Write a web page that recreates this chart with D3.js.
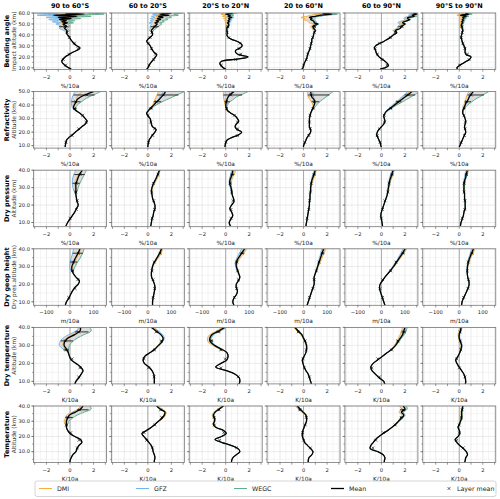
<!DOCTYPE html>
<html>
<head>
<meta charset="utf-8">
<script src="https://cdn.jsdelivr.net/npm/d3@7"></script>
<style>
body { margin: 0; background: #fff; }
svg { display: block; font-family: "DejaVu Sans", sans-serif; }
</style>
</head>
<body>
<div id="chart"></div>
<script>
// column / row labels
const colTitles = ["90 to 60°S", "60 to 20°S", "20°S to 20°N", "20 to 60°N", "60 to 90°N", "90°S to 90°N"];
const rowTitles = ["Bending angle", "Refractivity", "Dry pressure", "Dry geop height", "Dry temperature", "Temperature"];
const rowSubtitles = ["Impact altitude (km)", "Altitude (km)", "Altitude (km)", "Dry pres.altitude (km)", "Altitude (km)", "Altitude (km)"];
const rowUnits = ["%/10a", "%/10a", "%/10a", "m/10a", "K/10a", "K/10a"];
const centers = ["DMI", "GFZ", "WEGC"];

// altitude grids (km)
const zBend = [9,10,12,14,16,18,20,22,24,26,28,30,32,34,36,38,40,42,44,46,48,50,51,52,53,54,55,56,57,58,59,60];
const zBendTop = [44,46,48,50,51,52,53,54,55,56,57,58,59,60];
const zRefr = [9,10,12,14,16,18,20,22,24,26,28,30,32,34,36,38,40,42,44,46,48,50];
const zRefrTop = [36,38,40,42,44,46,48,50];
const zStrat = [8,10,12,14,16,18,20,22,24,26,28,30,32,34,36,38,40];
const zStratTop = [28,30,32,34,36,38,40];
const zTemp = [3,4,6,8,10,12,14,16,18,20,22,24,26,28,30,32,34,36,38,40];

// ---- bending angle trends (%/10a)
const bendMean = [
  [0.1,-0.1,-0.4,-0.6,-0.7,-0.6,-0.4,-0.1,0.2,0.6,0.85,0.6,0.35,0.2,0.05,-0.05,-0.2,-0.3,-0.25,-0.45,-0.3,-0.6,-0.2,-0.7,-0.3,-0.9,0.1,-1.0,0.6,-1.4,1.2,-0.4],
  [-0.1,0.0,0.1,0.2,0.35,0.5,0.65,0.75,0.55,0.4,0.3,0.2,0.05,-0.1,0.0,0.2,0.4,0.35,0.3,0.45,0.6,0.8,0.6,0.9,0.7,1.1,0.8,1.3,0.9,1.8,1.0,2.0],
  [0.0,-0.2,-0.4,-0.5,-0.35,1.0,1.9,1.1,0.85,0.85,1.2,1.4,1.3,1.0,0.5,0.2,0.1,0.15,0.1,0.1,0.2,0.25,0.15,0.3,0.2,0.35,0.25,0.5,0.2,0.4,0.0,0.6],
  [-0.15,-0.05,0.0,0.05,0.15,0.25,0.3,0.35,0.4,0.5,0.55,0.6,0.65,0.7,0.7,0.8,0.85,0.9,1.0,0.85,0.8,1.2,0.9,0.9,0.8,0.6,0.7,0.5,1.0,1.5,2.4,1.6],
  [-0.1,0.3,0.6,0.5,0.3,0.05,-0.2,-0.35,-0.45,-0.5,-0.6,-0.5,-0.2,0.2,0.5,0.8,1.0,1.3,1.2,1.6,1.7,2.0,1.8,1.9,2.2,2.4,2.2,2.3,2.8,2.6,3.0,2.7],
  [-0.15,-0.2,0.0,0.3,0.6,0.9,1.0,0.6,0.5,0.5,0.5,0.4,0.3,0.25,0.2,0.15,0.2,0.25,0.3,0.25,0.2,0.2,0.3,0.2,0.35,0.25,0.4,0.3,0.6,0.1,0.8,0.5]
];
const bendDMI = [
  [-0.3,-0.5,-0.4,-0.7,-0.3,-0.8,-0.4,-1.0,0.0,-1.2,0.5,-1.6,1.0,-0.6],
  [0.3,0.4,0.5,0.7,0.5,0.8,0.6,0.9,0.6,1.0,0.7,1.4,0.8,1.5],
  [0.05,0.0,0.1,0.1,-0.05,0.1,-0.1,0.1,-0.2,0.2,-0.3,0.0,-0.4,0.2],
  [0.9,0.7,0.6,0.9,0.5,0.4,0.3,0.0,0.1,-0.2,0.3,0.6,1.5,0.8],
  [1.1,1.4,1.5,1.8,1.6,1.7,2.0,2.2,2.0,2.1,2.6,2.4,2.8,2.5],
  [0.25,0.2,0.1,0.1,0.15,0.0,0.2,0.05,0.2,0.0,0.3,-0.2,0.4,0.2]
];
const bendGFZ = [
  [-0.5,-0.9,-0.7,-1.2,-0.8,-1.5,-1.0,-1.8,-0.8,-2.0,-0.6,-2.8,-1.0,-3.0],
  [0.15,0.2,0.2,0.3,0.1,0.4,0.2,0.5,0.2,0.6,0.3,0.9,0.4,1.0],
  [0.15,0.2,0.3,0.35,0.3,0.45,0.35,0.55,0.45,0.7,0.5,0.6,0.3,0.8],
  [1.05,0.95,0.9,1.3,1.1,1.1,1.0,0.9,1.0,1.0,1.5,1.8,2.7,2.0],
  [1.0,1.3,1.4,1.6,1.4,1.5,1.8,2.0,1.9,2.0,2.5,2.3,2.7,2.4],
  [0.3,0.3,0.25,0.3,0.4,0.3,0.5,0.4,0.6,0.5,0.8,0.3,1.0,0.7]
];
const bendWEGC = [
  [-0.05,-0.2,0.0,-0.2,0.3,-0.2,0.4,-0.3,0.9,0.0,1.8,0.3,2.9,1.5],
  [0.45,0.7,0.9,1.2,1.0,1.4,1.2,1.7,1.5,2.0,1.8,2.6,2.2,3.0],
  [0.1,0.1,0.2,0.3,0.2,0.35,0.25,0.4,0.3,0.6,0.4,0.7,0.4,1.0],
  [1.0,0.9,0.85,1.3,1.0,1.0,0.9,0.8,0.8,0.6,1.1,1.9,2.9,2.2],
  [1.25,1.65,1.8,2.1,1.9,2.0,2.3,2.5,2.4,2.5,3.0,2.8,3.1,2.9],
  [0.35,0.3,0.3,0.3,0.4,0.35,0.45,0.4,0.55,0.5,0.8,0.4,1.1,0.8]
];

// ---- refractivity trends (%/10a)
const refrMean = [
  [-0.4,-0.4,-0.35,-0.3,-0.1,0.2,0.45,0.75,1.0,1.3,1.45,1.3,1.1,0.85,0.5,0.3,0.35,0.5,0.6,0.9,1.4,2.0],
  [0.0,0.0,0.05,0.1,0.25,0.4,0.6,0.7,0.4,0.3,0.25,0.2,0.0,-0.1,0.05,0.25,0.5,0.7,0.95,1.15,1.35,1.5],
  [-0.05,-0.05,0.0,0.1,0.5,1.1,1.35,0.95,0.8,0.9,1.1,1.0,0.8,0.45,0.15,0.05,0.0,0.05,0.1,0.2,0.4,0.7],
  [0.0,0.0,0.1,0.2,0.3,0.45,0.6,0.6,0.5,0.5,0.5,0.5,0.55,0.6,0.7,0.8,0.9,0.95,0.9,0.7,0.65,0.6],
  [0.0,-0.05,-0.1,-0.2,-0.3,-0.4,-0.35,-0.2,0.0,0.2,0.3,0.25,0.2,0.3,0.5,0.8,1.1,1.4,1.7,2.0,2.3,2.6],
  [0.0,0.05,0.15,0.25,0.35,0.45,0.55,0.5,0.45,0.5,0.55,0.5,0.4,0.3,0.3,0.4,0.5,0.6,0.75,0.85,1.0,1.2]
];
const refrDMI = [
  [0.5,0.35,0.4,0.5,0.55,0.6,0.8,1.0],
  [0.05,0.2,0.4,0.5,0.6,0.7,0.8,0.9],
  [0.1,0.0,-0.05,-0.1,-0.15,-0.2,-0.2,-0.2],
  [0.7,0.75,0.8,0.7,0.55,0.4,0.35,0.35],
  [0.5,0.75,1.0,1.3,1.6,1.8,2.1,2.4],
  [0.3,0.35,0.4,0.45,0.55,0.6,0.7,0.8]
];
const refrGFZ = [
  [0.45,0.2,0.15,0.1,0.15,0.2,0.3,0.4],
  [0.05,0.25,0.5,0.7,0.9,1.0,1.2,1.3],
  [0.15,0.05,0.05,0.1,0.15,0.25,0.3,0.35],
  [0.7,0.8,0.9,0.95,0.9,0.85,0.8,0.8],
  [0.45,0.7,0.95,1.2,1.5,1.7,2.0,2.2],
  [0.3,0.4,0.5,0.6,0.7,0.8,0.9,1.0]
];
const refrWEGC = [
  [0.55,0.5,0.6,0.9,1.2,1.6,2.1,2.6],
  [0.1,0.35,0.7,1.1,1.6,2.1,2.6,3.1],
  [0.2,0.1,0.15,0.3,0.6,0.9,1.4,1.9],
  [0.75,0.9,1.1,1.3,1.6,1.9,2.2,2.5],
  [0.55,0.9,1.3,1.7,2.1,2.5,2.9,3.2],
  [0.35,0.5,0.7,1.0,1.3,1.7,2.1,2.5]
];

// ---- dry pressure trends (%/10a)
const presMean = [
  [-0.35,-0.2,0.0,0.2,0.4,0.55,0.7,0.6,0.55,0.5,0.5,0.5,0.5,0.6,0.7,0.85,1.05],
  [0.25,0.3,0.35,0.45,0.5,0.6,0.6,0.5,0.4,0.35,0.3,0.35,0.45,0.6,0.75,0.85,1.0],
  [0.4,0.3,0.45,0.6,0.5,0.35,0.5,0.7,0.65,0.55,0.5,0.45,0.35,0.35,0.45,0.55,0.6],
  [0.2,0.25,0.3,0.35,0.4,0.45,0.5,0.5,0.55,0.55,0.6,0.6,0.65,0.7,0.8,0.9,1.0],
  [0.1,0.05,0.0,-0.05,0.0,0.1,0.2,0.3,0.4,0.5,0.55,0.6,0.65,0.7,0.8,0.9,1.0],
  [0.1,0.15,0.25,0.35,0.4,0.5,0.5,0.5,0.45,0.45,0.4,0.4,0.4,0.45,0.55,0.6,0.7]
];
const presDMI = [
  [0.45,0.45,0.45,0.5,0.6,0.8,1.0],
  [0.35,0.4,0.55,0.7,0.85,0.95,1.05],
  [0.5,0.5,0.45,0.5,0.6,0.75,0.85],
  [0.62,0.65,0.7,0.8,0.9,1.0,1.1],
  [0.6,0.65,0.7,0.8,0.9,1.0,1.1],
  [0.42,0.45,0.45,0.5,0.6,0.7,0.8]
];
const presGFZ = [
  [0.35,0.25,0.2,0.2,0.25,0.35,0.5],
  [0.3,0.35,0.45,0.6,0.7,0.85,1.0],
  [0.5,0.4,0.3,0.3,0.35,0.45,0.5],
  [0.58,0.58,0.62,0.65,0.72,0.8,0.9],
  [0.5,0.55,0.6,0.65,0.7,0.8,0.9],
  [0.38,0.35,0.35,0.38,0.45,0.5,0.6]
];
const presWEGC = [
  [0.6,0.7,0.8,0.95,1.1,1.25,1.4],
  [0.3,0.35,0.45,0.6,0.75,0.9,1.05],
  [0.55,0.5,0.4,0.4,0.5,0.6,0.7],
  [0.6,0.6,0.65,0.7,0.8,0.92,1.0],
  [0.55,0.6,0.7,0.75,0.85,0.95,1.05],
  [0.42,0.42,0.45,0.5,0.6,0.68,0.75]
];

// ---- dry geopotential height trends (m/10a)
const geopMean = [
  [-20,-15,-5,2,10,20,35,40,25,14,8,8,14,20,28,36,42],
  [20,20,22,25,28,30,28,22,16,15,17,20,26,35,44,52,58],
  [35,30,35,45,50,45,45,55,60,55,50,45,45,50,60,70,80],
  [15,20,25,30,35,40,45,45,45,50,55,60,65,70,75,80,85],
  [15,10,5,0,-5,-8,-5,5,15,28,40,52,62,72,82,92,100],
  [10,12,18,25,32,38,42,40,36,34,34,35,38,42,48,54,60]
];
const geopDMI = [
  [8,10,18,25,32,40,45],
  [18,22,30,40,50,58,64],
  [52,48,50,58,68,80,90],
  [57,63,70,76,82,88,95],
  [42,55,66,77,88,98,108],
  [35,37,41,46,53,60,67]
];
const geopGFZ = [
  [2,-2,0,3,8,12,15],
  [16,20,26,35,44,52,60],
  [48,42,40,45,52,60,68],
  [54,58,62,66,70,74,78],
  [38,48,58,68,76,85,92],
  [33,33,35,38,43,48,53]
];
const geopWEGC = [
  [15,22,30,40,48,55,60],
  [16,19,25,33,42,50,56],
  [50,46,46,52,60,72,82],
  [55,60,65,70,76,82,88],
  [40,52,63,74,84,95,104],
  [34,35,38,43,49,55,61]
];

// ---- dry temperature trends (K/10a)
const dtmpMean = [
  [0.4,0.5,0.75,0.95,1.1,0.9,0.5,0.1,-0.05,-0.15,-0.3,-0.5,-0.45,-0.2,0.4,0.85,0.9],
  [0.55,0.55,0.55,0.5,0.35,0.1,-0.3,-0.4,-0.25,0.2,0.6,0.9,1.2,1.3,1.1,0.7,0.3],
  [1.1,1.2,1.15,0.8,0.05,-0.85,-0.4,0.1,0.2,0.1,-0.4,-0.95,-1.3,-1.35,-1.15,-0.6,-0.1],
  [0.7,0.6,0.5,0.4,0.2,0.05,-0.05,-0.1,0.05,0.2,0.25,0.25,0.15,0.0,-0.15,-0.45,-0.75],
  [0.3,0.2,-0.2,-0.5,-0.8,-0.9,-0.7,-0.3,0.1,0.5,0.9,1.2,1.4,1.6,1.8,1.9,2.0],
  [0.5,0.55,0.5,0.4,0.2,0.0,-0.2,-0.3,-0.1,0.05,0.15,0.2,0.1,0.0,0.0,0.1,0.15]
];
const dtmpDMI = [
  [-0.4,-0.6,-0.55,-0.3,0.2,0.6,0.7],
  [0.55,0.85,1.15,1.3,1.15,0.8,0.4],
  [-0.5,-1.1,-1.5,-1.55,-1.35,-0.8,-0.3],
  [0.25,0.2,0.1,-0.05,-0.25,-0.55,-0.85],
  [0.85,1.1,1.3,1.45,1.6,1.7,1.8],
  [0.1,0.15,0.05,-0.05,-0.1,0.0,0.05]
];
const dtmpGFZ = [
  [-0.6,-0.9,-0.85,-0.6,-0.1,0.5,0.9],
  [0.65,0.95,1.25,1.4,1.25,0.9,0.55],
  [-0.35,-0.85,-1.15,-1.2,-1.0,-0.45,0.1],
  [0.3,0.3,0.2,0.05,-0.1,-0.4,-0.65],
  [0.9,1.2,1.45,1.65,1.85,2.0,2.1],
  [0.2,0.25,0.15,0.05,0.05,0.15,0.25]
];
const dtmpWEGC = [
  [-0.1,-0.05,0.2,0.6,1.2,1.8,1.7],
  [0.6,0.9,1.2,1.3,1.1,0.7,0.35],
  [-0.4,-0.95,-1.3,-1.3,-1.1,-0.5,0.0],
  [0.25,0.25,0.15,0.0,-0.15,-0.4,-0.7],
  [0.95,1.25,1.5,1.7,1.95,2.1,2.2],
  [0.15,0.2,0.1,0.0,0.0,0.1,0.2]
];

// ---- temperature trends (K/10a)
const tempMean = [
  [0.0,0.0,0.1,0.25,0.5,0.6,0.75,1.0,0.9,0.4,0.0,-0.2,-0.3,-0.3,-0.3,-0.2,-0.05,0.45,0.9,1.1],
  [0.55,0.55,0.6,0.55,0.45,0.4,0.3,0.1,-0.1,-0.35,-0.5,-0.1,0.3,0.6,0.9,1.2,1.4,1.45,1.05,0.75],
  [0.5,0.5,0.6,0.9,1.2,1.05,0.5,-0.3,-0.9,-0.35,0.05,-0.2,-0.85,-1.05,-0.95,-0.95,-1.05,-0.9,-0.55,-0.2],
  [0.4,0.4,0.45,0.7,0.8,0.6,0.35,0.1,0.0,-0.1,-0.1,-0.05,0.05,0.15,0.25,0.25,0.2,-0.05,-0.3,-0.55],
  [0.25,0.25,0.3,0.15,-0.3,-0.95,-0.9,-0.7,-0.5,-0.2,0.15,0.55,0.9,1.2,1.45,1.7,1.9,1.7,2.0,1.85],
  [0.45,0.5,0.55,0.7,0.6,0.35,0.05,-0.2,-0.35,-0.1,0.05,0.0,-0.1,0.0,0.1,0.2,0.2,0.2,0.25,0.3]
];
const tempDMI = [
  [-0.4,-0.5,-0.4,-0.3,0.2,0.7,0.9],
  [0.6,0.95,1.3,1.5,1.55,1.2,0.85],
  [-1.1,-1.0,-1.05,-1.15,-1.0,-0.65,-0.3],
  [0.15,0.25,0.25,0.15,-0.15,-0.45,-0.7],
  [1.15,1.4,1.6,1.75,1.5,1.7,1.5],
  [0.0,0.05,0.15,0.15,0.15,0.2,0.25]
];
const tempGFZ = [
  [-0.3,-0.35,-0.25,-0.1,0.3,0.8,1.0],
  [0.6,0.9,1.2,1.4,1.45,1.05,0.75],
  [-1.05,-0.95,-0.95,-1.0,-0.85,-0.5,-0.15],
  [0.15,0.25,0.25,0.2,0.0,-0.25,-0.5],
  [1.2,1.45,1.7,1.9,1.75,2.05,1.9],
  [0.0,0.1,0.2,0.2,0.2,0.25,0.3]
];
const tempWEGC = [
  [-0.2,-0.1,0.2,0.6,1.2,1.8,1.7],
  [0.6,0.9,1.15,1.35,1.4,1.0,0.7],
  [-1.0,-0.9,-0.9,-1.0,-0.85,-0.5,-0.15],
  [0.15,0.25,0.3,0.25,0.0,-0.25,-0.45],
  [1.25,1.5,1.8,2.0,1.85,2.2,2.1],
  [0.05,0.15,0.25,0.25,0.25,0.3,0.35]
];

// ---- per-row axis settings
const rowZDomain = [[8.5, 60], [8.2, 50], [7.6, 40], [8, 40], [8.6, 40], [2.9, 40]];
const rowZTicks = [[10,20,30,40,50,60], [10,20,30,40,50], [10,20,30,40], [10,20,30,40], [10,20,30,40], [10,20,30,40]];
const rowXDomain = [[-3.1,3.1], [-3.1,3.1], [-3.1,3.1], [-155,155], [-3.1,3.1], [-3.1,3.1]];
const rowXLabels = [[-2,0,2], [-2,0,2], [-2,0,2], [-100,0,100], [-2,0,2], [-2,0,2]];
const rowLayerTop = [50, 50, 40, 40, 40, 40];

const colors = { DMI: "#f3ae3d", GFZ: "#72b6ea", WEGC: "#5fae8c", Mean: "#000" };

const rowsData = [
  { z: zBend, zTop: zBendTop, mean: bendMean, DMI: bendDMI, GFZ: bendGFZ, WEGC: bendWEGC },
  { z: zRefr, zTop: zRefrTop, mean: refrMean, DMI: refrDMI, GFZ: refrGFZ, WEGC: refrWEGC },
  { z: zStrat, zTop: zStratTop, mean: presMean, DMI: presDMI, GFZ: presGFZ, WEGC: presWEGC },
  { z: zStrat, zTop: zStratTop, mean: geopMean, DMI: geopDMI, GFZ: geopGFZ, WEGC: geopWEGC },
  { z: zStrat, zTop: zStratTop, mean: dtmpMean, DMI: dtmpDMI, GFZ: dtmpGFZ, WEGC: dtmpWEGC },
  { z: zTemp, zTop: zStratTop, mean: tempMean, DMI: tempDMI, GFZ: tempGFZ, WEGC: tempWEGC }
];

// layout
const width = 500, height = 499;
const colX0 = 33.5, colStep = 77.85, panelW = 73;
const rowY0 = 13, rowStep = 78.6, panelH = 56.5;

const svg = d3.select("#chart").append("svg")
  .attr("width", width).attr("height", height);

svg.append("defs").append("clipPath").attr("id", "pclip")
  .append("rect").attr("width", panelW).attr("height", panelH);

// a center profile follows the mean below the top levels
function centerProfile(rd, c, k) {
  const pts = [];
  rd.z.forEach((z, i) => { if (z < rd.zTop[0]) pts.push({ z: z, v: rd.mean[c][i] }); });
  rd.zTop.forEach((z, i) => pts.push({ z: z, v: rd[k][c][i] }));
  return pts;
}

function layerAvg(pts, lo, hi) {
  const sel = pts.filter(p => p.z >= lo && p.z <= hi);
  return d3.mean(sel, p => p.v);
}

// column titles
colTitles.forEach((t, c) => {
  svg.append("text")
    .attr("x", colX0 + c * colStep + panelW / 2).attr("y", 8)
    .attr("text-anchor", "middle").style("font-size", "6.5px").style("font-weight", "bold")
    .text(t);
});

rowsData.forEach((rd, r) => {
  const py = rowY0 + r * rowStep;
  const zDom = rowZDomain[r];
  const xDom = rowXDomain[r];
  const y = d3.scaleLinear().domain(zDom).range([panelH, 0]);
  const xStep = xDom[1] > 10 ? 50 : 1;

  // row labels
  svg.append("text")
    .attr("transform", `translate(8.5,${py + panelH / 2}) rotate(-90)`)
    .attr("text-anchor", "middle").style("font-size", "6.5px").style("font-weight", "bold")
    .text(rowTitles[r]);
  svg.append("text")
    .attr("transform", `translate(15.5,${py + panelH / 2}) rotate(-90)`)
    .attr("text-anchor", "middle").style("font-size", "5.8px").attr("fill", "#333")
    .text(rowSubtitles[r]);

  for (let c = 0; c < 6; c++) {
    const px = colX0 + c * colStep;
    const g = svg.append("g").attr("transform", `translate(${px},${py})`);
    const x = d3.scaleLinear().domain(xDom).range([0, panelW]);

    // grid
    const xMinor = d3.range(Math.ceil(xDom[0] / (xStep / 2)) * (xStep / 2), xDom[1], xStep / 2);
    const zMinor = d3.range(Math.ceil(zDom[0] / 5) * 5, zDom[1] + 0.01, 5);
    g.selectAll(".gx").data(xMinor).enter().append("line")
      .attr("x1", d => x(d)).attr("x2", d => x(d)).attr("y1", 0).attr("y2", panelH)
      .attr("stroke", d => (Math.abs(d % xStep) < 1e-6 ? "#dedede" : "#eeeeee")).attr("stroke-width", 0.6);
    g.selectAll(".gz").data(zMinor).enter().append("line")
      .attr("x1", 0).attr("x2", panelW).attr("y1", d => y(d)).attr("y2", d => y(d))
      .attr("stroke", d => (d % 10 === 0 ? "#dedede" : "#eeeeee")).attr("stroke-width", 0.6);

    // zero line
    g.append("line").attr("x1", x(0)).attr("x2", x(0)).attr("y1", 0).attr("y2", panelH)
      .attr("stroke", "#a8a8a8").attr("stroke-width", 1);

    const plot = g.append("g").attr("clip-path", "url(#pclip)");
    const line = d3.line().x(d => x(d.v)).y(d => y(d.z)).curve(d3.curveCatmullRom.alpha(0.5));

    const prof = {};
    centers.forEach(k => { prof[k] = centerProfile(rd, c, k); });
    const meanPts = rd.z.map((z, i) => ({ z: z, v: rd.mean[c][i] }));

    // spread between processing centers
    const band = rd.zTop.map((z, i) => {
      const vals = centers.map(k => rd[k][c][i]);
      return { z: z, lo: d3.min(vals), hi: d3.max(vals) };
    });
    plot.append("path").datum(band)
      .attr("d", d3.area().y(d => y(d.z)).x0(d => x(d.lo)).x1(d => x(d.hi)).curve(d3.curveCatmullRom.alpha(0.5)))
      .attr("fill", "#c8c8c8").attr("fill-opacity", 0.6);

    centers.forEach(k => {
      plot.append("path").datum(prof[k]).attr("d", line)
        .attr("fill", "none").attr("stroke", colors[k]).attr("stroke-width", 1);
    });
    plot.append("path").datum(meanPts).attr("d", line)
      .attr("fill", "none").attr("stroke", "#000").attr("stroke-width", 1.3);

    // layer means with spread of centers
    const layers = d3.range(10, rowLayerTop[r], 5).map(lo => {
      const cv = centers.map(k => layerAvg(prof[k], lo, lo + 5));
      return { z: lo + 2.5, v: layerAvg(meanPts, lo, lo + 5), lo: d3.min(cv), hi: d3.max(cv) };
    });
    plot.selectAll(".eb").data(layers).enter().append("line")
      .attr("x1", d => x(d.lo)).attr("x2", d => x(d.hi))
      .attr("y1", d => y(d.z)).attr("y2", d => y(d.z))
      .attr("stroke", "#000").attr("stroke-width", 0.8);
    plot.selectAll(".lm").data(layers).enter().append("path")
      .attr("d", d => { const cx = x(d.v), cy = y(d.z), s = 1.4;
        return `M${cx - s},${cy - s}L${cx + s},${cy + s}M${cx - s},${cy + s}L${cx + s},${cy - s}`; })
      .attr("stroke", "#000").attr("stroke-width", 0.6).attr("fill", "none");

    // frame
    g.append("rect").attr("width", panelW).attr("height", panelH)
      .attr("fill", "none").attr("stroke", "#777").attr("stroke-width", 0.8);

    // x axis ticks
    const xt = d3.range(Math.ceil(xDom[0] / xStep) * xStep, xDom[1] + 1e-6, xStep);
    g.selectAll(".xt").data(xt).enter().append("line")
      .attr("x1", d => x(d)).attr("x2", d => x(d)).attr("y1", panelH).attr("y2", panelH + 2.2)
      .attr("stroke", "#555").attr("stroke-width", 0.6);
    g.selectAll(".xl").data(rowXLabels[r]).enter().append("text")
      .attr("x", d => x(d)).attr("y", panelH + 9)
      .attr("text-anchor", "middle").style("font-size", "5.2px").attr("fill", "#222")
      .text(d => d < 0 ? "\u2212" + Math.abs(d) : d);
    g.append("text").attr("x", panelW / 2).attr("y", panelH + 18)
      .attr("text-anchor", "middle").style("font-size", "5.8px").attr("fill", "#222")
      .text(rowUnits[r]);

    // y axis ticks
    g.selectAll(".ytm").data(zMinor).enter().append("line")
      .attr("x1", -1.5).attr("x2", 0).attr("y1", d => y(d)).attr("y2", d => y(d))
      .attr("stroke", "#555").attr("stroke-width", 0.5);
    g.selectAll(".yt").data(rowZTicks[r]).enter().append("line")
      .attr("x1", -2.4).attr("x2", 0).attr("y1", d => y(d)).attr("y2", d => y(d))
      .attr("stroke", "#555").attr("stroke-width", 0.6);
    if (c === 0) {
      g.selectAll(".yl").data(rowZTicks[r]).enter().append("text")
        .attr("x", -3.5).attr("y", d => y(d) + 1.8)
        .attr("text-anchor", "end").style("font-size", "5.2px").attr("fill", "#222")
        .text(d => d.toFixed(1));
    }
  }
});

// legend
const legY = 488.5;
const lg = svg.append("g");
lg.append("rect").attr("x", 35).attr("y", 481).attr("width", 461).attr("height", 15.5)
  .attr("rx", 2).attr("fill", "#fff").attr("stroke", "#ccc").attr("stroke-width", 0.8);
const legItems = [
  { name: "DMI", x: 39 }, { name: "GFZ", x: 136 }, { name: "WEGC", x: 234 }, { name: "Mean", x: 331 }
];
legItems.forEach(it => {
  lg.append("line").attr("x1", it.x).attr("x2", it.x + 13).attr("y1", legY).attr("y2", legY)
    .attr("stroke", colors[it.name]).attr("stroke-width", it.name === "Mean" ? 1.3 : 1);
  lg.append("text").attr("x", it.x + 18).attr("y", legY + 2.3)
    .style("font-size", "6.3px").attr("fill", "#222").text(it.name);
});
lg.append("path")
  .attr("d", `M${449 - 1.4},${legY - 1.4}L${449 + 1.4},${legY + 1.4}M${449 - 1.4},${legY + 1.4}L${449 + 1.4},${legY - 1.4}`)
  .attr("stroke", "#000").attr("stroke-width", 0.6);
lg.append("text").attr("x", 457).attr("y", legY + 2.3)
  .style("font-size", "6.3px").attr("fill", "#222").text("Layer mean");
</script>
</body>
</html>
